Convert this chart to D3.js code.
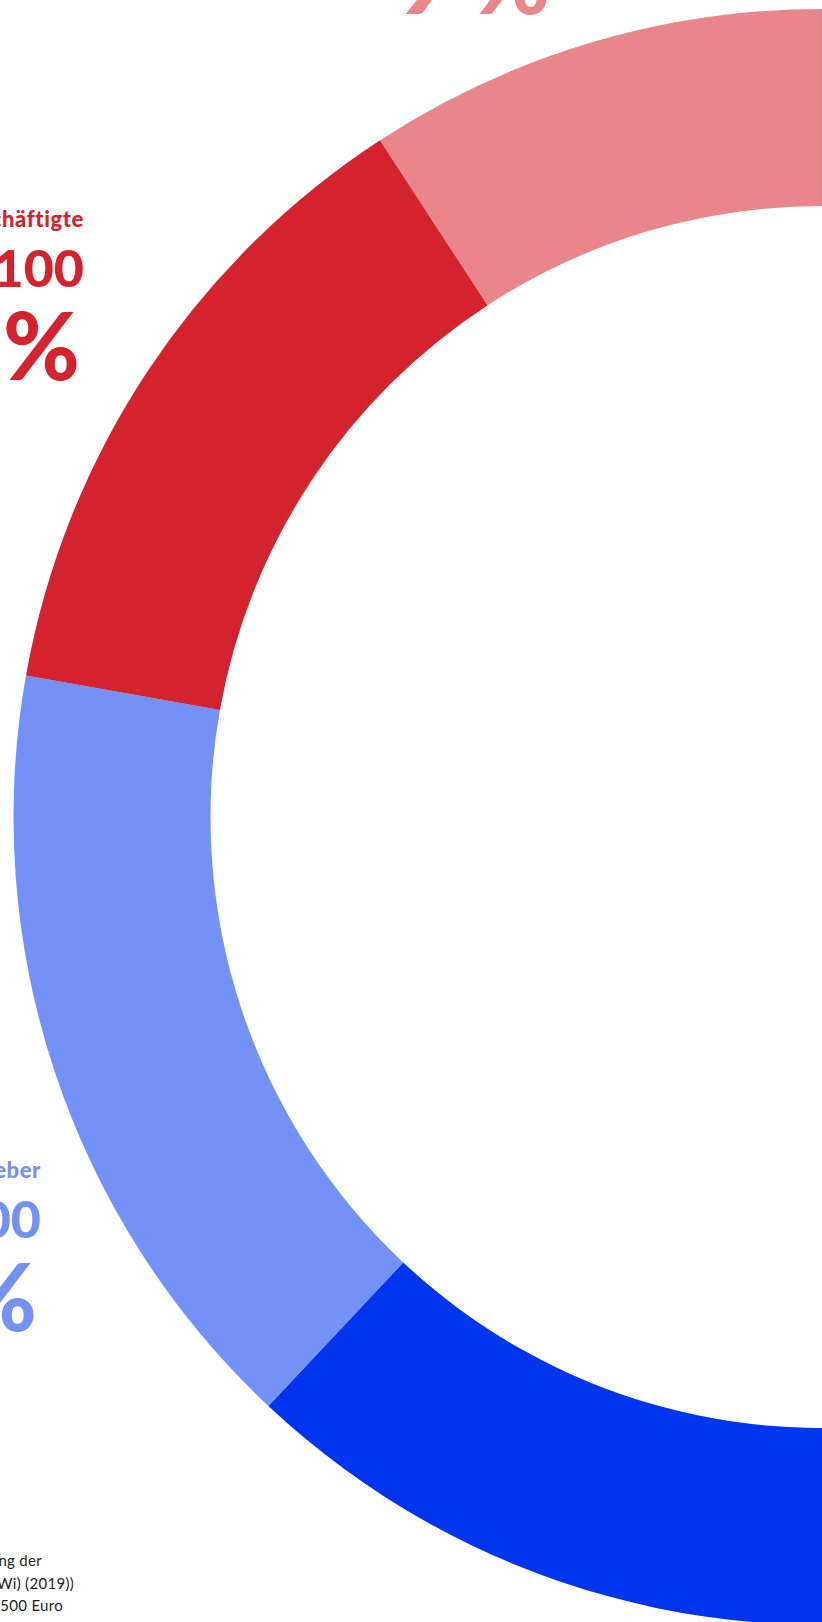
<!DOCTYPE html>
<html lang="de">
<head>
<meta charset="utf-8">
<title>Donut</title>
<script src="https://d3js.org/d3.v7.min.js"></script>
<style>
  body { margin: 0; background: #fff; }
  svg { display: block; }
  text { font-family: Lato, "Open Sans", sans-serif; }
</style>
</head>
<body>
<div id="chart"></div>
<script>
// slices, clockwise from 12 o'clock
const categories = ["Großunternehmen", "Arbeitgeber", "Beschäftigte", "Kleinbetriebe"];
const shares = [62, 15.8, 13, 9.2];
const shareLabels = ["62 %", "16 %", "13 %", "9 %"];
const colors = ["#0035f0", "#7391f7", "#d4232e", "#e8868b"];

const width = 822, height = 1622;

const svg = d3.select("#chart")
  .append("svg")
  .attr("width", width)
  .attr("height", height);

// donut sits with its centre on the right edge of the page
const cx = 821.5, cy = 817;
const outer = 808, inner = 611;

const pie = d3.pie().sort(null).value(d => d);
const arc = d3.arc().innerRadius(inner).outerRadius(outer);

const g = svg.append("g").attr("transform", "translate(" + cx + "," + cy + ")");

g.selectAll("path")
  .data(pie(shares))
  .enter()
  .append("path")
  .attr("d", arc)
  .attr("fill", (d, i) => colors[i]);

// labels outside the ring (mostly cut off by the left edge)
const labels = [
  { i: 2, x: 84, y: 227, head: "Beschäftigte", num: "2.100" },
  { i: 1, x: 41, y: 1178, head: "Arbeitgeber", num: "2.600" }
];

labels.forEach(l => {
  const t = svg.append("g").attr("fill", colors[l.i]).attr("text-anchor", "end");
  t.append("text").attr("x", l.x).attr("y", l.y)
    .attr("font-size", 22).attr("font-weight", 900)
    .attr("letter-spacing", 0.6).text(l.head);
  t.append("text").attr("x", l.x).attr("y", l.y + 60)
    .attr("font-size", 52).attr("font-weight", 900).text(l.num);
  t.append("text").attr("x", l.x - 4).attr("y", l.y + 153)
    .attr("font-size", 93).attr("font-weight", 900).text(shareLabels[l.i]);
});

// pink label above the ring, only its bottom is visible
svg.append("text")
  .attr("x", 550).attr("y", 14)
  .attr("text-anchor", "end")
  .attr("fill", colors[3])
  .attr("font-size", 93).attr("font-weight", 900)
  .text(shareLabels[3]);

// source note bottom left
const notes = ["Eigene Berechnung der", "(Quelle: BMWi) (2019))", "Einkommen über 4.500 Euro"];
const noteEnds = [42, 74, 63];
svg.selectAll(".note")
  .data(notes)
  .enter()
  .append("text")
  .attr("class", "note")
  .attr("x", (d, i) => noteEnds[i])
  .attr("y", (d, i) => 1566 + i * 22.5)
  .attr("text-anchor", "end")
  .attr("font-size", 15)
  .attr("letter-spacing", 0.3)
  .attr("fill", "#222")
  .text(d => d);
</script>
</body>
</html>
